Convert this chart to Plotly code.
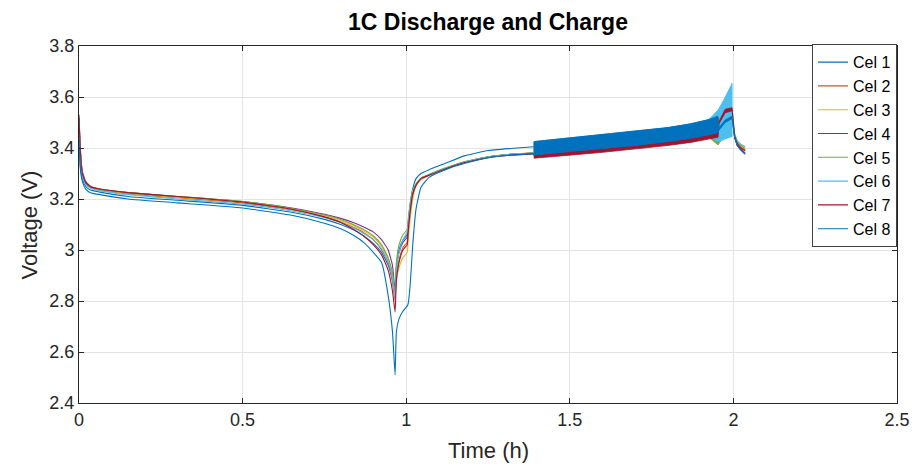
import plotly.graph_objects as go

# ---------------- data ----------------
cells = ["Cel 1", "Cel 2", "Cel 3", "Cel 4", "Cel 5", "Cel 6", "Cel 7", "Cel 8"]
colors = ["#0072BD", "#D95319", "#EDB120", "#7E2F8E", "#77AC30", "#4DBEEE", "#A2142F", "#0072BD"]

# discharge segment
t_dis = [0, 0.004, 0.01, 0.02, 0.035, 0.06, 0.15, 0.3, 0.5, 0.65, 0.75, 0.8, 0.84, 0.87, 0.9, 0.925, 0.945, 0.958, 0.966]
v_dis = {
    "Cel 1": [3.44, 3.33, 3.28, 3.25, 3.235, 3.228, 3.21, 3.195, 3.175, 3.148, 3.12, 3.10, 3.078, 3.055, 3.025, 2.99, 2.94, 2.88, 2.82],
    "Cel 2": [3.51, 3.38, 3.30, 3.262, 3.245, 3.236, 3.22, 3.205, 3.185, 3.158, 3.13, 3.11, 3.088, 3.068, 3.04, 3.0, 2.95, 2.88, 2.80],
    "Cel 3": [3.51, 3.39, 3.30, 3.265, 3.247, 3.238, 3.222, 3.207, 3.188, 3.16, 3.135, 3.116, 3.095, 3.075, 3.05, 3.015, 2.965, 2.90, 2.82],
    "Cel 4": [3.53, 3.40, 3.31, 3.27, 3.25, 3.24, 3.225, 3.21, 3.19, 3.165, 3.14, 3.124, 3.107, 3.09, 3.07, 3.04, 3.0, 2.94, 2.84],
    "Cel 5": [3.52, 3.39, 3.30, 3.265, 3.248, 3.24, 3.225, 3.21, 3.19, 3.163, 3.137, 3.12, 3.099, 3.08, 3.055, 3.02, 2.97, 2.91, 2.83],
    "Cel 6": [3.50, 3.38, 3.29, 3.258, 3.242, 3.233, 3.217, 3.20, 3.18, 3.153, 3.127, 3.108, 3.085, 3.065, 3.04, 3.005, 2.955, 2.89, 2.81],
    "Cel 7": [3.52, 3.39, 3.30, 3.265, 3.248, 3.24, 3.225, 3.21, 3.188, 3.16, 3.13, 3.108, 3.08, 3.055, 3.02, 2.98, 2.92, 2.84, 2.757],
    "Cel 8": [3.44, 3.32, 3.27, 3.24, 3.225, 3.218, 3.20, 3.185, 3.165, 3.136, 3.105, 3.083, 3.057, 3.03, 2.99, 2.95, 2.82, 2.68, 2.51],
}

# rest segment
t_rest = [0.97, 0.978, 0.99, 1.003]
v_rest = {
    "Cel 1": [2.93, 3.0, 3.04, 3.06],
    "Cel 2": [2.90, 2.96, 3.01, 3.03],
    "Cel 3": [2.88, 2.93, 2.97, 2.99],
    "Cel 4": [2.93, 2.99, 3.03, 3.05],
    "Cel 5": [2.95, 3.02, 3.06, 3.08],
    "Cel 6": [2.92, 2.99, 3.04, 3.07],
    "Cel 7": [2.88, 2.95, 3.0, 3.02],
    "Cel 8": [2.68, 2.73, 2.76, 2.78],
}

# charge segment (before the balancing band)
t_chg = [1.006, 1.012, 1.02, 1.03, 1.045, 1.07, 1.12, 1.18, 1.25, 1.32, 1.39]
v_chg = {
    "Cel 1": [3.10, 3.18, 3.24, 3.28, 3.30, 3.315, 3.34, 3.37, 3.39, 3.398, 3.405],
    "Cel 2": [3.08, 3.15, 3.22, 3.255, 3.28, 3.295, 3.32, 3.345, 3.365, 3.375, 3.38],
    "Cel 3": [3.04, 3.12, 3.20, 3.25, 3.275, 3.292, 3.318, 3.343, 3.364, 3.374, 3.379],
    "Cel 4": [3.09, 3.16, 3.22, 3.255, 3.28, 3.295, 3.32, 3.345, 3.365, 3.375, 3.38],
    "Cel 5": [3.12, 3.18, 3.235, 3.26, 3.282, 3.297, 3.322, 3.347, 3.366, 3.376, 3.381],
    "Cel 6": [3.11, 3.17, 3.23, 3.258, 3.28, 3.295, 3.32, 3.345, 3.365, 3.375, 3.38],
    "Cel 7": [3.07, 3.15, 3.22, 3.255, 3.28, 3.293, 3.318, 3.343, 3.362, 3.372, 3.377],
    "Cel 8": [2.79, 2.86, 3.02, 3.16, 3.245, 3.285, 3.315, 3.34, 3.362, 3.372, 3.378],
}

# balancing band envelopes (lower / upper)
t_band = [1.39, 1.5, 1.6, 1.7, 1.8, 1.87, 1.92, 1.953, 1.956, 1.975, 1.996]
v_low = {
    "Cel 1": [3.373, 3.386, 3.398, 3.41, 3.425, 3.438, 3.45, 3.46, 3.47, 3.50, 3.515],
    "Cel 2": [3.37, 3.383, 3.395, 3.407, 3.422, 3.435, 3.447, 3.457, 3.475, 3.505, 3.52],
    "Cel 3": [3.37, 3.383, 3.395, 3.407, 3.422, 3.435, 3.447, 3.457, 3.465, 3.495, 3.512],
    "Cel 4": [3.37, 3.383, 3.395, 3.407, 3.422, 3.435, 3.447, 3.457, 3.485, 3.515, 3.525],
    "Cel 5": [3.37, 3.383, 3.395, 3.407, 3.422, 3.435, 3.447, 3.412, 3.415, 3.45, 3.49],
    "Cel 6": [3.37, 3.383, 3.395, 3.407, 3.422, 3.435, 3.447, 3.425, 3.426, 3.435, 3.445],
    "Cel 7": [3.36, 3.372, 3.383, 3.395, 3.41, 3.422, 3.434, 3.442, 3.495, 3.538, 3.546],
    "Cel 8": [3.373, 3.386, 3.398, 3.41, 3.425, 3.438, 3.45, 3.46, 3.47, 3.50, 3.515],
}
v_up = {
    "Cel 1": [3.425, 3.44, 3.452, 3.465, 3.48, 3.495, 3.51, 3.525, 3.48, 3.51, 3.525],
    "Cel 2": [3.42, 3.435, 3.447, 3.46, 3.475, 3.49, 3.505, 3.52, 3.485, 3.515, 3.53],
    "Cel 3": [3.42, 3.435, 3.447, 3.46, 3.475, 3.49, 3.505, 3.52, 3.475, 3.505, 3.522],
    "Cel 4": [3.42, 3.435, 3.447, 3.46, 3.475, 3.49, 3.505, 3.52, 3.495, 3.525, 3.535],
    "Cel 5": [3.42, 3.435, 3.447, 3.46, 3.475, 3.49, 3.505, 3.464, 3.468, 3.50, 3.53],
    "Cel 6": [3.42, 3.435, 3.447, 3.46, 3.475, 3.49, 3.505, 3.549, 3.555, 3.60, 3.654],
    "Cel 7": [3.373, 3.386, 3.398, 3.41, 3.425, 3.438, 3.45, 3.46, 3.505, 3.552, 3.558],
    "Cel 8": [3.425, 3.44, 3.452, 3.465, 3.48, 3.495, 3.51, 3.525, 3.48, 3.51, 3.525],
}

# relaxation tail after charge
t_tail = [1.996, 2.0, 2.004, 2.012, 2.022, 2.036]
v_tail = {
    "Cel 1": [3.52, 3.47, 3.44, 3.41, 3.395, 3.38],
    "Cel 2": [3.525, 3.475, 3.445, 3.42, 3.405, 3.392],
    "Cel 3": [3.517, 3.48, 3.45, 3.425, 3.413, 3.405],
    "Cel 4": [3.53, 3.47, 3.44, 3.41, 3.394, 3.378],
    "Cel 5": [3.51, 3.475, 3.45, 3.425, 3.41, 3.398],
    "Cel 6": [3.55, 3.49, 3.455, 3.428, 3.415, 3.405],
    "Cel 7": [3.552, 3.48, 3.445, 3.415, 3.4, 3.388],
    "Cel 8": [3.52, 3.47, 3.44, 3.41, 3.393, 3.375],
}

x_ticks = [0, 0.5, 1, 1.5, 2, 2.5]
y_ticks = [2.4, 2.6, 2.8, 3.0, 3.2, 3.4, 3.6, 3.8]
y_tick_text = ["2.4", "2.6", "2.8", "3", "3.2", "3.4", "3.6", "3.8"]

# ---------------- figure ----------------
fig = go.Figure()
for name, col in zip(cells, colors):
    xs = t_dis + t_rest + t_chg
    ys = v_dis[name] + v_rest[name] + v_chg[name]
    fig.add_trace(go.Scatter(x=xs, y=ys, mode="lines", name=name,
                             line=dict(color=col, width=1.1, shape="spline", smoothing=0.4),
                             legendgroup=name))
    # band polygon
    px = t_band + t_band[::-1]
    py = v_up[name] + v_low[name][::-1]
    fig.add_trace(go.Scatter(x=px, y=py, mode="lines", fill="toself", fillcolor=col,
                             line=dict(color=col, width=0.8), showlegend=False,
                             legendgroup=name, hoverinfo="skip"))
    fig.add_trace(go.Scatter(x=t_tail, y=v_tail[name], mode="lines", showlegend=False,
                             line=dict(color=col, width=1.1), legendgroup=name))

font_fam = "Liberation Sans Narrow, Liberation Sans, Arial, sans-serif"
title_fam = "Liberation Sans, Arial, sans-serif"
axis_common = dict(showgrid=True, gridcolor="#e3e3e3", gridwidth=1,
                   showline=True, linecolor="#262626", linewidth=1, mirror="ticks",
                   ticks="inside", ticklen=5, tickcolor="#262626",
                   tickfont=dict(size=18, color="#262626", family=font_fam),
                   zeroline=False, automargin=False)

fig.update_layout(
    width=919, height=468,
    paper_bgcolor="white", plot_bgcolor="white",
    margin=dict(l=79, r=22, t=46, b=65, autoexpand=False),
    title=dict(text="<b>1C Discharge and Charge</b>", x=0.531, xanchor="center",
               y=0.953, yanchor="middle",
               font=dict(size=23, color="black", family=title_fam)),
    xaxis=dict(range=[0, 2.5], tickvals=x_ticks, ticktext=[str(v) for v in x_ticks],
               **axis_common),
    yaxis=dict(range=[2.4, 3.8], tickvals=y_ticks, ticktext=y_tick_text,
               **axis_common),
    legend=dict(x=1, y=1.005, xanchor="right", yanchor="top", bgcolor="white",
                bordercolor="#404040", borderwidth=1,
                font=dict(size=16, color="black", family=title_fam),
                tracegroupgap=0, itemwidth=30),
    showlegend=True,
    annotations=[
        dict(text="Time (h)", xref="paper", yref="paper", x=0.5, y=-0.134,
             xanchor="center", yanchor="middle", showarrow=False,
             font=dict(size=22, color="#262626", family=title_fam)),
        dict(text="Voltage (V)", xref="paper", yref="paper", x=-0.06, y=0.5,
             xanchor="center", yanchor="middle", showarrow=False, textangle=-90,
             font=dict(size=22, color="#262626", family=title_fam)),
    ],
)

fig.write_html("out.html")
